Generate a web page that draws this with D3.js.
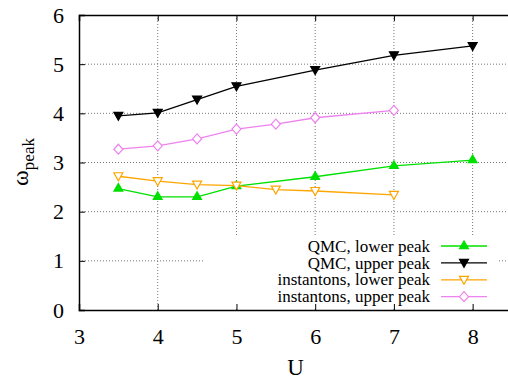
<!DOCTYPE html>
<html>
<head>
<meta charset="utf-8">
<script src="https://cdn.jsdelivr.net/npm/d3@7"></script>
<style>
  body { margin: 0; background: #fff; }
  svg text { font-family: "Liberation Serif", "DejaVu Serif", serif; fill: #000; }
</style>
</head>
<body>
<div id="chart"></div>
<script>
// values
const uQmc = [3.5, 4, 4.5, 5, 6, 7, 8];
const qmcLower = [2.47, 2.30, 2.30, 2.52, 2.71, 2.93, 3.05];
const qmcUpper = [3.95, 4.01, 4.28, 4.55, 4.88, 5.18, 5.37];
const uInst = [3.5, 4, 4.5, 5, 5.5, 6, 7];
const instLower = [2.72, 2.62, 2.55, 2.53, 2.45, 2.42, 2.34];
const instUpper = [3.27, 3.34, 3.48, 3.68, 3.78, 3.91, 4.06];
const xTicks = [3, 4, 5, 6, 7, 8];
const yTicks = [0, 1, 2, 3, 4, 5, 6];
const seriesNames = ["QMC, lower peak", "QMC, upper peak", "instantons, lower peak", "instantons, upper peak"];

const series = [
  { name: seriesNames[0], xs: uQmc, ys: qmcLower, color: "#00e000", marker: "up", fill: true },
  { name: seriesNames[1], xs: uQmc, ys: qmcUpper, color: "#000000", marker: "down", fill: true },
  { name: seriesNames[2], xs: uInst, ys: instLower, color: "#ffa500", marker: "down", fill: false },
  { name: seriesNames[3], xs: uInst, ys: instUpper, color: "#ee82ee", marker: "diamond", fill: false }
];

let width = 508, height = 380;
let pLeft = 79, pRight = 512, pTop = 15, pBottom = 310;
let serif = '"Liberation Serif", "Times New Roman", serif';

let x = d3.scaleLinear().domain([3, 8.5]).range([pLeft, pRight]);
let y = d3.scaleLinear().domain([0, 6]).range([pBottom, pTop]);

let svg = d3.select("#chart").append("svg")
  .attr("width", width).attr("height", height);

// grid
let grid = svg.append("g");
grid.selectAll("line.gx")
  .data(xTicks.slice(1))
  .enter().append("line")
  .attr("x1", d => x(d)).attr("x2", d => x(d))
  .attr("y1", pTop).attr("y2", pBottom)
  .attr("stroke", "#777").attr("stroke-width", 1)
  .attr("stroke-dasharray", "1,2");
grid.selectAll("line.gy")
  .data(yTicks.slice(1, -1))
  .enter().append("line")
  .attr("x1", pLeft).attr("x2", pRight)
  .attr("y1", d => y(d)).attr("y2", d => y(d))
  .attr("stroke", "#777").attr("stroke-width", 1)
  .attr("stroke-dasharray", "1,2");

// legend background clears the grid
let legX = 430, legLine0 = 441, legLine1 = 487, legY0 = 246, legDy = 16.9;
svg.append("rect")
  .attr("x", 203).attr("y", 236)
  .attr("width", 294).attr("height", 73)
  .attr("fill", "#fff");

// axes
let xAxis = d3.axisBottom(x).tickValues(xTicks).tickSize(-6).tickPadding(14).tickFormat(d3.format("d"));
let yAxis = d3.axisLeft(y).tickValues(yTicks).tickSize(-6).tickPadding(14).tickFormat(d3.format("d"));
let xTop = d3.axisTop(x).tickValues(xTicks).tickSize(-6).tickFormat("");

let gx = svg.append("g").attr("transform", `translate(0,${pBottom})`).call(xAxis);
let gy = svg.append("g").attr("transform", `translate(${pLeft},0)`).call(yAxis);
let gt = svg.append("g").attr("transform", `translate(0,${pTop})`).call(xTop);
for (let g of [gx, gy, gt]) {
  g.attr("font-family", serif).attr("font-size", 22);
  g.select(".domain").attr("stroke", "#000").attr("stroke-width", 1.5);
  g.selectAll(".tick line").attr("stroke", "#000");
  g.selectAll(".tick text").style("font-family", serif).style("font-size", "22px");
}
gx.selectAll(".tick text").attr("dy", "0.71em").attr("y", 18);
gy.selectAll(".tick text").attr("x", -15);

// curves
function markerPath(type) {
  if (type == "up") return d3.symbol().type(d3.symbolTriangle).size(34)();
  if (type == "diamond") return "M0,-5L4.5,0L0,5L-4.5,0Z";
  return "M-4.5,-3.5L4.5,-3.5L0,4.5Z";
}

let line = d3.line();
for (let s of series) {
  let pts = s.xs.map((v, i) => [x(v), y(s.ys[i])]);
  svg.append("path")
    .attr("d", line(pts))
    .attr("fill", "none")
    .attr("stroke", s.color)
    .attr("stroke-width", 1.3);
  svg.selectAll(null)
    .data(pts)
    .enter().append("path")
    .attr("d", markerPath(s.marker))
    .attr("transform", d => `translate(${d[0]},${d[1]})`)
    .attr("fill", s.fill ? s.color : "#fff")
    .attr("stroke", s.color)
    .attr("stroke-width", 1.2);
}

// legend
series.forEach((s, i) => {
  let ly = legY0 + i * legDy;
  svg.append("text")
    .attr("x", legX).attr("y", ly)
    .attr("dy", "0.33em")
    .attr("text-anchor", "end")
    .style("font-family", serif)
    .style("font-size", "17px")
    .text(s.name);
  svg.append("line")
    .attr("x1", legLine0).attr("x2", legLine1)
    .attr("y1", ly).attr("y2", ly)
    .attr("stroke", s.color).attr("stroke-width", 1.3);
  svg.append("path")
    .attr("d", markerPath(s.marker))
    .attr("transform", `translate(${(legLine0 + legLine1) / 2},${ly})`)
    .attr("fill", s.fill ? s.color : "#fff")
    .attr("stroke", s.color)
    .attr("stroke-width", 1.2);
});

// axis titles
svg.append("text")
  .attr("x", x(5.75)).attr("y", 375)
  .attr("text-anchor", "middle")
  .style("font-family", serif)
  .style("font-size", "23px")
  .text("U");

let yl = svg.append("text")
  .attr("transform", "translate(28,162) rotate(-90)")
  .attr("text-anchor", "middle")
  .style("font-family", serif)
  .style("font-size", "24px");
yl.append("tspan").text("ω");
yl.append("tspan").attr("dy", 6).style("font-size", "17px").text("peak");
</script>
</body>
</html>
